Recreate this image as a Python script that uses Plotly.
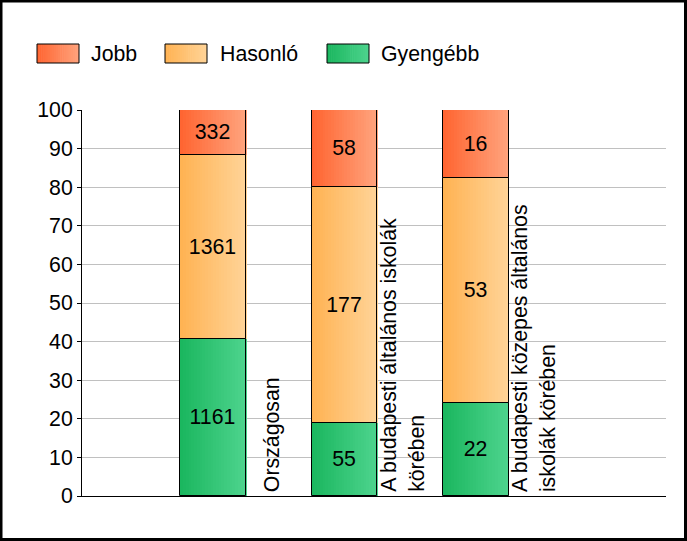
import plotly.graph_objects as go

# ---- data ----
categories = ["Országosan",
              "A budapesti általános iskolák<br>körében",
              "A budapesti közepes általános<br>iskolák körében"]
series_names = ["Gyengébb", "Hasonló", "Jobb"]
gyengebb = [1161, 55, 22]
hasonlo = [1361, 177, 53]
jobb = [332, 58, 16]
series_values = [gyengebb, hasonlo, jobb]
yticks = [0, 10, 20, 30, 40, 50, 60, 70, 80, 90, 100]

# ---- styles ----
grad = {
    "Jobb": ((255, 100, 48), (255, 164, 126)),
    "Hasonló": ((255, 178, 82), (255, 212, 152)),
    "Gyengébb": ((26, 182, 94), (78, 212, 142)),
}
FONT = "Arial, 'Liberation Sans', sans-serif"
FS = 21.3
W, H = 687, 541
ML, MR, MT, MB = 82, 21, 110, 45
PW, PH = W - ML - MR, H - MT - MB
BAR_W = 0.5
NSL = 24

def px_x(p):
    return (p - ML) / PW

def px_y(p):
    return (H - MB - p) / PH

def mix(c0, c1, t):
    return "rgb(%d,%d,%d)" % tuple(round(a + (b - a) * t) for a, b in zip(c0, c1))

xs = list(range(len(categories)))
totals = [sum(v) for v in zip(*series_values)]
pcts = [[v / t * 100 for v, t in zip(vals, totals)] for vals in series_values]
bases = []
acc = [0.0] * len(xs)
for p in pcts:
    bases.append(acc[:])
    acc = [a + b for a, b in zip(acc, p)]

fig = go.Figure()
sw = BAR_W / NSL
for name, p, b in zip(series_names, pcts, bases):
    c0, c1 = grad[name]
    for k in range(NSL):
        fig.add_trace(go.Bar(
            x=xs, y=p, base=b, width=sw * 1.3, offset=-BAR_W / 2 + k * sw,
            marker=dict(color=mix(c0, c1, (k + 0.5) / NSL), line=dict(width=0)),
            showlegend=False, hoverinfo="skip"))
for name, p, b, vals in zip(series_names, pcts, bases, series_values):
    fig.add_trace(go.Bar(
        x=xs, y=p, base=b, width=BAR_W, name=name,
        marker=dict(color="rgba(0,0,0,0)", line=dict(color="black", width=1)),
        text=[str(v) for v in vals], textposition="inside",
        insidetextanchor="middle", constraintext="none",
        textfont=dict(family=FONT, size=FS, color="black"),
        showlegend=False, hoverinfo="skip"))

# category labels (rotated)
for x, c in zip(xs, categories):
    fig.add_annotation(x=x + 0.445, y=0, xref="x", yref="y", text=c,
                       textangle=-90, xanchor="center", yanchor="bottom",
                       align="left", showarrow=False, yshift=2,
                       font=dict(family=FONT, size=FS, color="black"))

shapes = []
# legend (manual)
legend_items = [("Jobb", 37, 89), ("Hasonló", 165, 218), ("Gyengébb", 327, 379)]
for name, sx, tx in legend_items:
    c0, c1 = grad[name]
    n = 20
    for k in range(n):
        shapes.append(dict(type="rect", xref="paper", yref="paper",
                           x0=px_x(sx + 42 * k / n), x1=px_x(sx + 42 * (k + 1.3) / n if k < n - 1 else sx + 42),
                           y0=px_y(63), y1=px_y(44), line=dict(width=0),
                           fillcolor=mix(c0, c1, (k + 0.5) / n)))
    shapes.append(dict(type="rect", xref="paper", yref="paper",
                       x0=px_x(sx), x1=px_x(sx + 42), y0=px_y(63), y1=px_y(44),
                       line=dict(color="black", width=1)))
    fig.add_annotation(x=px_x(tx), y=px_y(54), xref="paper", yref="paper",
                       text=name, showarrow=False, xanchor="left", yanchor="middle",
                       font=dict(family=FONT, size=FS, color="black"))

# outer border
shapes.append(dict(type="rect", xref="paper", yref="paper",
                   x0=px_x(1), x1=px_x(685.5), y0=px_y(539.5), y1=px_y(1),
                   line=dict(color="black", width=3)))

fig.update_layout(
    width=W, height=H, barmode="overlay", bargap=0,
    margin=dict(l=ML, r=MR, t=MT, b=MB),
    paper_bgcolor="white", plot_bgcolor="white",
    showlegend=False, shapes=shapes,
    font=dict(family=FONT, size=FS, color="black"),
)
fig.update_yaxes(range=[0, 100], tickvals=yticks, ticks="outside", ticklen=4,
                 tickcolor="black", showline=True, linecolor="black", linewidth=1,
                 gridcolor="#C0C0C0", gridwidth=1, zeroline=False,
                 tickfont=dict(family=FONT, size=FS, color="black"))
fig.update_xaxes(range=[-1.0, 3.45], showticklabels=False, showline=True,
                 linecolor="black", linewidth=1, showgrid=False, zeroline=False,
                 ticks="")

fig.write_html("out.html", config={"displayModeBar": False},
               post_script="document.body.style.margin='0';document.body.style.padding='0';document.body.style.overflow='hidden';")
